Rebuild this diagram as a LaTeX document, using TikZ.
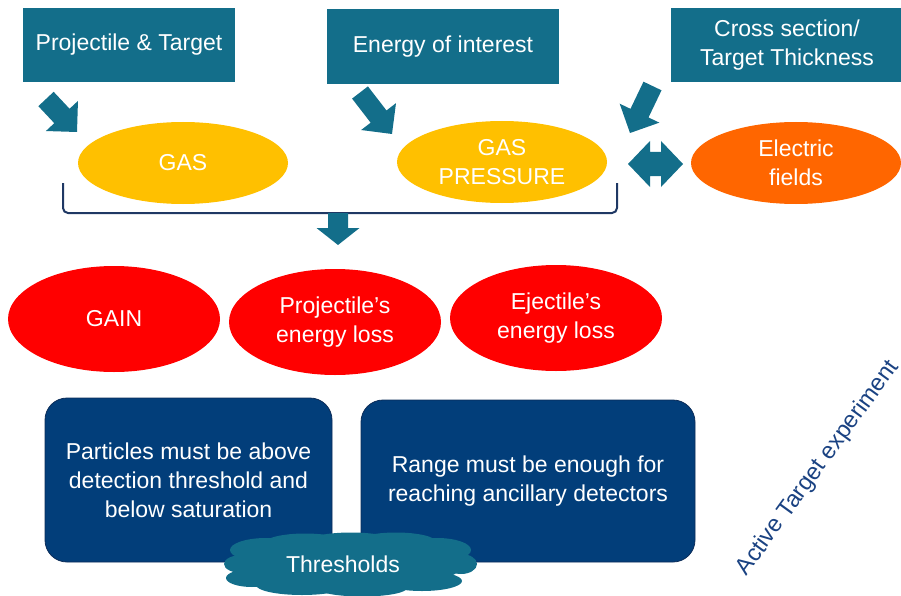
\documentclass[tikz,border=0pt]{standalone}
\usepackage{fontspec}
\setmainfont{Liberation Sans}
\usetikzlibrary{calc,shapes.geometric}

\definecolor{tealbox}{RGB}{19,110,138}
\definecolor{gasyellow}{RGB}{255,192,0}
\definecolor{fieldorange}{RGB}{255,102,0}
\definecolor{lossred}{RGB}{255,0,0}
\definecolor{navybox}{RGB}{2,62,122}
\definecolor{navyedge}{RGB}{12,44,88}
\definecolor{bracenavy}{RGB}{31,56,100}
\definecolor{labelnavy}{RGB}{26,66,130}

% block arrow: #1 tail, #2 tip, #3 shaft half-width, #4 head half-width, #5 head length
\newcommand{\blockarrow}[5]{%
  \coordinate (ba-base) at ($(#2)!#5!(#1)$);
  \fill[arrowfill] ($(#1)!#3!90:(#2)$) -- ($(ba-base)!#3!90:(#2)$)
    -- ($(ba-base)!#4!90:(#2)$) -- (#2) -- ($(ba-base)!#4!-90:(#2)$)
    -- ($(ba-base)!#3!-90:(#2)$) -- ($(#1)!#3!-90:(#2)$) -- cycle;}

% double-headed block arrow between two tips
\newcommand{\twoheadarrow}[5]{%
  \coordinate (da-a) at ($(#1)!#5!(#2)$);
  \coordinate (da-b) at ($(#2)!#5!(#1)$);
  \fill[arrowfill] (#1) -- ($(da-a)!#4!90:(#2)$) -- ($(da-a)!#3!90:(#2)$)
    -- ($(da-b)!#3!-90:(#1)$) -- ($(da-b)!#4!-90:(#1)$) -- (#2)
    -- ($(da-b)!#4!90:(#1)$) -- ($(da-b)!#3!90:(#1)$)
    -- ($(da-a)!#3!-90:(#2)$) -- ($(da-a)!#4!-90:(#2)$) -- cycle;}

\begin{document}
\begin{tikzpicture}[x=1pt,y=-1pt,
  txt/.style={font=\fontsize{23}{29}\selectfont, text=white, align=center, inner sep=0pt},
  topbox/.style={txt, rectangle, fill=tealbox},
  gasell/.style={txt, ellipse, fill=gasyellow, minimum width=210, minimum height=82},
  lossell/.style={txt, ellipse, fill=lossred, minimum width=212, minimum height=106},
  condbox/.style={txt, rectangle, rounded corners=22, fill=navybox, draw=navyedge, line width=0.8pt},
  arrowfill/.style={fill=tealbox},
  puff/.style={fill=tealbox},
  bracket/.style={draw=bracenavy, line width=2pt, rounded corners=5pt}]

\useasboundingbox (0,0) rectangle (901,596);
\clip (0,0) rectangle (901,596);

% inputs
\node[topbox, minimum width=212, minimum height=74] (proj) at (129,45) {Projectile \& Target};
\node[topbox, minimum width=232, minimum height=75] (energy) at (443,46.5) {Energy of interest};
\node[topbox, minimum width=232, minimum height=74] (xsec) at (787,45) {Cross section/\\Target Thickness};

% gas parameters
\node[gasell] (gas) at (183,163) {GAS};
\node[gasell] (press) at (502,162) {GAS\\PRESSURE};
\node[txt, ellipse, fill=fieldorange, minimum width=210, minimum height=82] (efield) at (796,163) {Electric\\fields};

% arrows from the inputs
\coordinate (a1-tail) at (46,99);   \coordinate (a1-tip) at (77,132);
\coordinate (a2-tail) at (360,92.5); \coordinate (a2-tip) at (392,134);
\coordinate (a3-tail) at (652.5,86); \coordinate (a3-tip) at (630,133);
\blockarrow{a1-tail}{a1-tip}{10.5pt}{22pt}{22pt}
\blockarrow{a2-tail}{a2-tip}{10pt}{22pt}{22pt}
\blockarrow{a3-tail}{a3-tip}{10pt}{22pt}{22pt}

% pressure <-> electric fields
\coordinate (dbl-l) at (628,164); \coordinate (dbl-r) at (683,164);
\twoheadarrow{dbl-l}{dbl-r}{12pt}{23pt}{22pt}

% bracket grouping the gas parameters
\coordinate (br-l) at (63,183); \coordinate (br-r) at (617,183);
\draw[bracket] (br-l) -- (63,213) -- (617,213) -- (br-r);
\coordinate (down-tail) at (338,213); \coordinate (down-tip) at (338,245);
\blockarrow{down-tail}{down-tip}{10pt}{21.5pt}{17pt}

% consequences
\node[lossell] (gain) at (114,319) {GAIN};
\node[lossell] (ploss) at (335,322) {Projectile’s\\energy loss};
\node[lossell] (eloss) at (556,318) {Ejectile’s\\energy loss};

% requirements
\node[condbox, minimum width=287, minimum height=164] (detect) at (188.5,480)
  {Particles must be above\\detection threshold and\\below saturation};
\node[condbox, minimum width=334, minimum height=162] (range) at (528,481)
  {Range must be enough for\\reaching ancillary detectors};

% cloud built from overlapping puffs
\fill[puff] (351,565) ellipse [x radius=112, y radius=24];
\fill[puff] (266,550) ellipse [x radius=36, y radius=12];
\fill[puff] (305,543) ellipse [x radius=40, y radius=9.5];
\fill[puff] (351,541) ellipse [x radius=42, y radius=8.5];
\fill[puff] (396,542) ellipse [x radius=40, y radius=9.5];
\fill[puff] (437,550) ellipse [x radius=34, y radius=12];
\fill[puff] (242,564) ellipse [x radius=18, y radius=9];
\fill[puff] (461,564) ellipse [x radius=16, y radius=10];
\fill[puff] (252,578) ellipse [x radius=26, y radius=9];
\fill[puff] (302,585) ellipse [x radius=46, y radius=10];
\fill[puff] (362,588) ellipse [x radius=45, y radius=8.5];
\fill[puff] (422,581) ellipse [x radius=40, y radius=10];
\node[txt] (thr) at (343,564) {Thresholds};

% side label
\node[font=\fontsize{23.5}{28}\selectfont, text=labelnavy, rotate=54, inner sep=0pt] (ate) at (818,468) {Active Target experiment};

\end{tikzpicture}
\end{document}
